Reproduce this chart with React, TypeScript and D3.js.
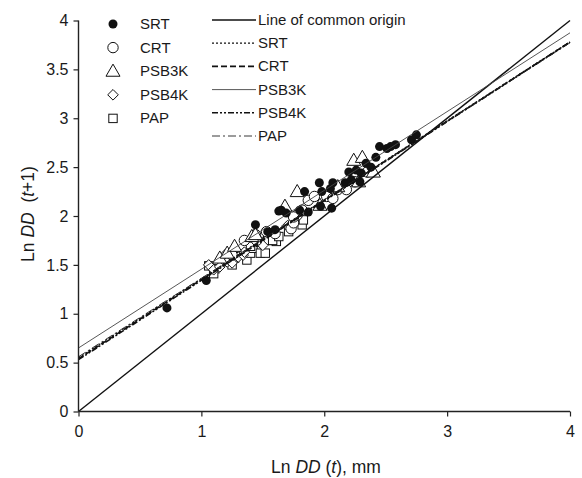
import React, { useEffect, useRef } from "react";
import * as d3 from "d3";

const xTicks = [0, 1, 2, 3, 4];
const yTicks = [0, 0.5, 1, 1.5, 2, 2.5, 3, 3.5, 4];

const srtPoints: [number, number][] = [
  [0.72, 1.06], [1.04, 1.34], [1.44, 1.91], [1.54, 1.84], [1.6, 1.86], [1.63, 2.05],
  [1.65, 2.06], [1.69, 2.03], [1.8, 2.06], [1.87, 2.04], [1.96, 2.34], [1.98, 2.25],
  [2.05, 2.28], [2.06, 2.08], [2.07, 2.34], [1.84, 2.25], [2.17, 2.34], [2.2, 2.45],
  [2.22, 2.37], [2.26, 2.47], [2.29, 2.35], [2.3, 2.44], [2.34, 2.54], [2.45, 2.71],
  [2.51, 2.69], [2.54, 2.71], [2.58, 2.73], [2.71, 2.78], [2.75, 2.83], [1.97, 2.1],
  [2.38, 2.5], [2.42, 2.6],
];
const crtPoints: [number, number][] = [
  [1.35, 1.75], [1.45, 1.75], [1.44, 1.81], [1.53, 1.84], [1.6, 1.82], [1.73, 1.87],
  [1.75, 1.93], [1.78, 2.01], [1.75, 1.99], [1.82, 2.06], [1.87, 2.16], [1.92, 2.2],
  [2.02, 2.2], [2.07, 2.18], [2.11, 2.27], [2.18, 2.27], [1.25, 1.6], [2.25, 2.35],
  [2.35, 2.45],
];
const psb3kPoints: [number, number][] = [
  [1.15, 1.57], [1.21, 1.62], [1.27, 1.69], [1.41, 1.79], [1.44, 1.81], [1.68, 2.1],
  [1.78, 2.25], [1.965, 2.11], [2.11, 2.3], [2.24, 2.57], [2.31, 2.6], [2.28, 2.35],
  [2.4, 2.45],
];
const psb4kPoints: [number, number][] = [
  [1.06, 1.5], [1.1, 1.45], [1.15, 1.48], [1.19, 1.6], [1.21, 1.53], [1.25, 1.52],
  [1.3, 1.58], [1.34, 1.6], [1.35, 1.63], [1.5, 1.7], [1.7, 1.9],
];
const papPoints: [number, number][] = [
  [1.06, 1.49], [1.11, 1.46], [1.1, 1.41], [1.25, 1.5], [1.27, 1.57], [1.37, 1.55],
  [1.4, 1.62], [1.42, 1.67], [1.48, 1.62], [1.52, 1.62], [1.48, 1.73], [1.54, 1.75],
  [1.61, 1.74], [1.4, 1.69], [1.46, 1.74], [1.58, 1.75], [1.63, 1.79], [1.71, 1.84],
  [1.82, 1.91], [1.83, 1.96],
];

const lineNames = ["Line of common origin", "SRT", "CRT", "PSB3K", "PSB4K", "PAP"];
const lineIntercepts = [0, 0.55, 0.54, 0.65, 0.53, 0.56];
const lineSlopes = [1, 0.808, 0.81, 0.806, 0.812, 0.803];
const markerNames = ["SRT", "CRT", "PSB3K", "PSB4K", "PAP"];

const lineStyles = [
  { dash: "", width: 1.4, color: "#111" },
  { dash: "2,2", width: 1.3, color: "#111" },
  { dash: "6,3", width: 1.6, color: "#111" },
  { dash: "", width: 0.9, color: "#444" },
  { dash: "6,2,2,2,2,2", width: 1.6, color: "#111" },
  { dash: "8,3,2,3", width: 0.9, color: "#222" },
];

const FONT = "'Liberation Sans', Arial, sans-serif";
const TXT = "#1a1a1a";

export default function App() {
  const ref = useRef<SVGSVGElement | null>(null);
  useEffect(() => {
    const svg = d3.select(ref.current);
    svg.selectAll("*").remove();
    const x = d3.scaleLinear().domain([0, 4]).range([78.5, 570]);
    const y = d3.scaleLinear().domain([0, 4]).range([411.5, 20.5]);

    const g = svg.append("g");

    const drawMarker = (sel: any, type: string, cx: number, cy: number) => {
      const stroke = "#111";
      if (type === "SRT") {
        sel.append("circle").attr("cx", cx).attr("cy", cy).attr("r", 4.5).attr("fill", "#111");
      } else if (type === "CRT") {
        sel.append("circle").attr("cx", cx).attr("cy", cy).attr("r", 5.2).attr("fill", "#fff").attr("stroke", stroke).attr("stroke-width", 1);
      } else if (type === "PSB3K") {
        sel.append("path").attr("d", d3.symbol(d3.symbolTriangle, 85)()).attr("transform", `translate(${cx},${cy + 1})`).attr("fill", "#fff").attr("stroke", stroke).attr("stroke-width", 1);
      } else if (type === "PSB4K") {
        sel.append("path").attr("d", `M0,-5.3L5.3,0L0,5.3L-5.3,0Z`).attr("transform", `translate(${cx},${cy})`).attr("fill", "#fff").attr("stroke", stroke).attr("stroke-width", 1);
      } else if (type === "PAP") {
        sel.append("rect").attr("x", cx - 4.2).attr("y", cy - 4.2).attr("width", 8.4).attr("height", 8.4).attr("fill", "#fff").attr("stroke", stroke).attr("stroke-width", 1);
      }
    };

    const series: [string, [number, number][]][] = [
      ["PAP", papPoints],
      ["PSB4K", psb4kPoints],
      ["CRT", crtPoints],
      ["PSB3K", psb3kPoints],
      ["SRT", srtPoints],
    ];
    const pts = g.append("g");
    series.forEach(([name, data]) => {
      data.forEach(([vx, vy]) => drawMarker(pts, name, x(vx), y(vy)));
    });

    lineNames.forEach((name, i) => {
      const a = lineIntercepts[i];
      const b = lineSlopes[i];
      const st = lineStyles[i];
      const gen = d3.line<number>().x((d) => x(d)).y((d) => y(a + b * d));
      g.append("path")
        .attr("d", gen([0, 4]))
        .attr("fill", "none")
        .attr("stroke", st.color)
        .attr("stroke-width", st.width)
        .attr("stroke-dasharray", st.dash || null);
    });

    const xAxis = d3.axisBottom(x).tickValues(xTicks).tickSize(5).tickPadding(9).tickFormat((d: any) => String(d));
    const yAxis = d3.axisLeft(y).tickValues(yTicks).tickSize(5).tickPadding(5).tickFormat((d: any) => String(d));
    const gx = svg.append("g").attr("transform", `translate(0,${y(0)})`).call(xAxis);
    const gy = svg.append("g").attr("transform", `translate(${x(0)},0)`).call(yAxis);
    [gx, gy].forEach((ax) => {
      ax.select(".domain").attr("stroke", "#222").attr("stroke-width", 1.4);
      ax.selectAll(".tick line").attr("stroke", "#222").attr("stroke-width", 1.2);
      ax.selectAll(".tick text").attr("font-family", FONT).attr("font-size", 16).attr("fill", TXT);
    });
    gx.select(".domain").attr("d", `M${x(0)},0H${x(4)}`);
    gy.select(".domain").attr("d", `M0,${y(4)}V${y(0)}`);

    const xt = svg.append("text").attr("x", 326).attr("y", 473).attr("text-anchor", "middle")
      .attr("font-family", FONT).attr("font-size", 17.5).attr("fill", TXT);
    xt.append("tspan").text("Ln ");
    xt.append("tspan").attr("font-style", "italic").text("DD");
    xt.append("tspan").text(" (");
    xt.append("tspan").attr("font-style", "italic").text("t");
    xt.append("tspan").text("), mm");

    const yt = svg.append("text").attr("transform", `translate(34,214) rotate(-90)`).attr("text-anchor", "middle")
      .attr("font-family", FONT).attr("font-size", 17.5).attr("fill", TXT);
    yt.append("tspan").text("Ln ");
    yt.append("tspan").attr("font-style", "italic").text("DD");
    yt.append("tspan").text("\u00a0 (");
    yt.append("tspan").attr("font-style", "italic").text("t");
    yt.append("tspan").text("+1)");

    const leg = svg.append("g");
    markerNames.forEach((name, i) => {
      const cy = 24 + i * 23.6;
      drawMarker(leg, name, 113, cy);
      leg.append("text").attr("x", 140).attr("y", cy + 5).attr("font-family", FONT).attr("font-size", 15).attr("fill", TXT).text(name);
    });
    lineNames.forEach((name, i) => {
      const cy = 20 + i * 23.2;
      const st = lineStyles[i];
      leg.append("line").attr("x1", 212).attr("x2", 256).attr("y1", cy).attr("y2", cy)
        .attr("stroke", st.color).attr("stroke-width", st.width).attr("stroke-dasharray", st.dash || null);
      leg.append("text").attr("x", 258).attr("y", cy + 5).attr("font-family", FONT).attr("font-size", 15).attr("fill", TXT).text(name);
    });
  }, []);

  return (
    <svg
      ref={ref}
      width={582}
      height={478}
      style={{ position: "absolute", left: 0, top: 0, background: "#fff" }}
    />
  );
}
